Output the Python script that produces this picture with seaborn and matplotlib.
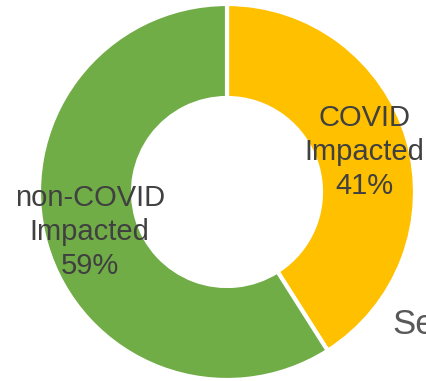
import matplotlib
matplotlib.use("Agg")
import matplotlib.pyplot as plt
import seaborn as sns

categories = ["COVID\nImpacted", "non-COVID\nImpacted"]
shares = [41, 59]
colors = ["#FFC000", "#70AD47"]

sns.set_style("white")
plt.rcParams["font.family"] = ["Liberation Sans", "DejaVu Sans"]

fig = plt.figure(figsize=(4.26, 3.81), dpi=100)
W, H = 426, 381
cx, cy, r = 227, 192, 188
ax = fig.add_axes([(cx - r) / W, (H - cy - r) / H, 2 * r / W, 2 * r / H])

labels_iter = iter(categories)


def fmt(pct):
    return f"{next(labels_iter)}\n{pct:.0f}%"


wedges, texts, autotexts = ax.pie(
    shares,
    colors=colors,
    startangle=90,
    counterclock=False,
    radius=1,
    autopct=fmt,
    pctdistance=0.76,
    wedgeprops=dict(width=0.5, edgecolor="white", linewidth=3),
    textprops=dict(fontsize=21, color="#404040", linespacing=1.27),
)
for t in autotexts:
    t.set_ha("center")
    t.set_va("center")

ax.set_xlim(-1, 1)
ax.set_ylim(-1, 1)
ax.set_aspect("auto")
ax.axis("off")

fig.text(392 / W, 1 - 325 / H, "Series1", fontsize=25, color="#595959",
         ha="left", va="center")

fig.savefig("out.png", dpi=100)
